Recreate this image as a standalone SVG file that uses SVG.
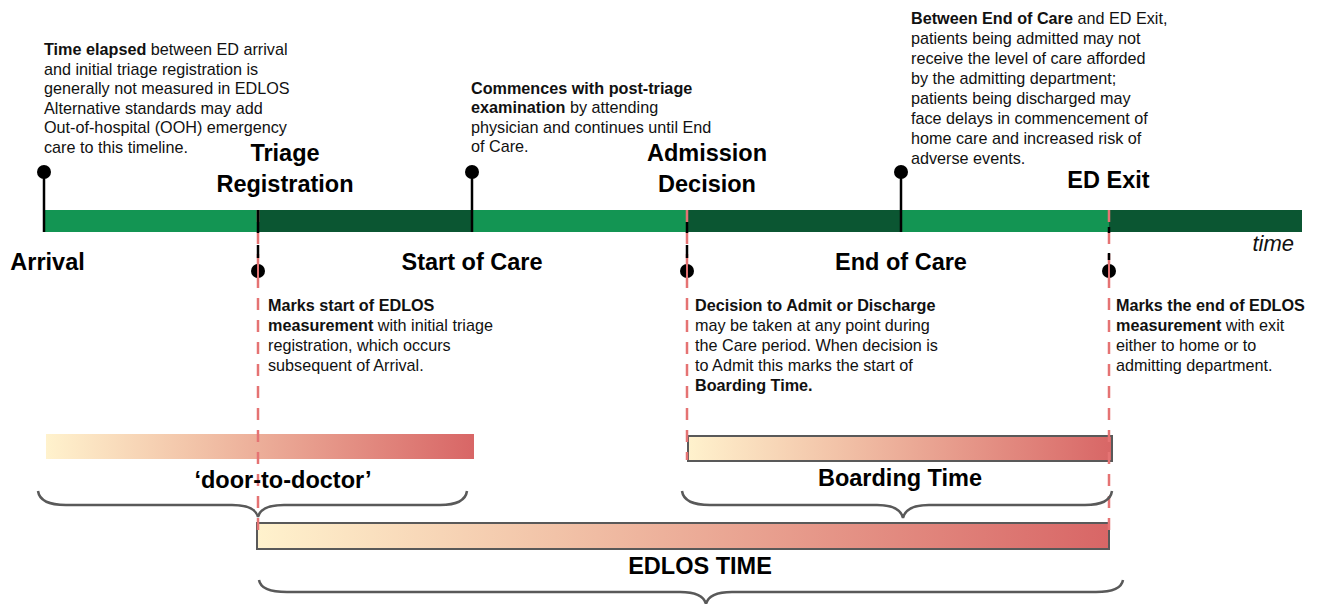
<svg xmlns="http://www.w3.org/2000/svg" width="1318" height="604" viewBox="0 0 1318 604">
<defs>
<linearGradient id="grad" x1="0" y1="0" x2="1" y2="0">
<stop offset="0" stop-color="#FFF2CD"/>
<stop offset="0.35" stop-color="#F2C3A8"/>
<stop offset="1" stop-color="#D86666"/>
</linearGradient>
<style>
.lbl{font-family:"Liberation Sans",Arial,sans-serif;font-weight:bold;font-size:23.5px;fill:#000}
.desc{font-family:"Liberation Sans",Arial,sans-serif;font-size:16.2px;fill:#111}
.b{font-weight:bold}
.light{fill:#139553}
.dark{fill:#0B5632}
.stem{stroke:#000;stroke-width:2.5;fill:none}
.dot{fill:#000}
.red{stroke:#E57373;stroke-width:2.5;fill:none;stroke-dasharray:12 10}
.brace{stroke:#595959;stroke-width:2.5;fill:none}
.bar{fill:url(#grad)}
.barS{fill:url(#grad);stroke:#595959;stroke-width:2}
</style>
</defs>

<g id="timeline">
<rect class="light" x="44" y="210" width="214" height="22"/>
<rect class="dark" x="258" y="210" width="214" height="22"/>
<rect class="light" x="472" y="210" width="215" height="22"/>
<rect class="dark" x="687" y="210" width="214" height="22"/>
<rect class="light" x="901" y="210" width="208" height="22"/>
<rect class="dark" x="1109" y="210" width="193" height="22"/>
<text x="1294" y="251" text-anchor="end" style="font-family:'Liberation Sans',Arial,sans-serif;font-style:italic;font-size:22px;fill:#111">time</text>
</g>

<g id="bars">
<rect id="door-bar" class="bar" x="46" y="434" width="428" height="25"/>
<rect id="boarding-bar" class="barS" x="688" y="436" width="424" height="25"/>
<rect id="edlos-bar" class="barS" x="257" y="523" width="852" height="26"/>
</g>

<g id="connectors">
<line class="red" x1="258" y1="210" x2="258" y2="538"/>
<line class="red" x1="687" y1="210" x2="687" y2="460"/>
<line class="red" x1="1109" y1="210" x2="1109" y2="540"/>
<path class="brace" d="M38,491 Q40,505 66,505 L232,505 Q255,505 258,517 Q261,505 284,505 L440,505 Q465,505 467,491"/>
<path class="brace" d="M682,491 Q684,505 710,505 L877,505 Q900,505 903,518 Q906,505 929,505 L1085,505 Q1110,505 1112,491"/>
<path class="brace" d="M259,580 Q261,592 287,592 L680,592 Q703,592 706,604 Q709,592 732,592 L1096,592 Q1121,592 1123,580"/>
</g>

<g id="arrival">
<line class="stem" x1="44" y1="172" x2="44" y2="232"/>
<circle class="dot" cx="44" cy="172" r="7"/>
<text class="lbl" x="47.5" y="270" text-anchor="middle">Arrival</text>
<text class="desc" x="44" y="55"><tspan class="b">Time elapsed</tspan> between ED arrival<tspan x="44" dy="19.5">and initial triage registration is</tspan><tspan x="44" dy="19.5">generally not measured in EDLOS</tspan><tspan x="44" dy="19.5">Alternative standards may add</tspan><tspan x="44" dy="19.5">Out-of-hospital (OOH) emergency</tspan><tspan x="44" dy="19.5">care to this timeline.</tspan></text>
</g>

<g id="triage">
<line class="stem" x1="258" y1="210" x2="258" y2="233"/>
<line class="stem" x1="258" y1="245" x2="258" y2="258"/>
<circle class="dot" cx="258" cy="271" r="7"/>
<line stroke="#E57373" stroke-width="2" x1="258" y1="264" x2="258" y2="278"/>
<text class="lbl" x="285" y="161" text-anchor="middle">Triage</text>
<text class="lbl" x="285" y="192" text-anchor="middle">Registration</text>
<text class="desc" x="268" y="311"><tspan class="b">Marks start of EDLOS</tspan><tspan x="268" dy="20"><tspan class="b">measurement</tspan> with initial triage</tspan><tspan x="268" dy="20">registration, which occurs</tspan><tspan x="268" dy="20">subsequent of Arrival.</tspan></text>
</g>

<g id="start-of-care">
<line class="stem" x1="472" y1="172" x2="472" y2="232"/>
<circle class="dot" cx="472" cy="172" r="7"/>
<text class="lbl" x="472" y="270" text-anchor="middle">Start of Care</text>
<text class="desc" x="471" y="93.5"><tspan class="b">Commences with post-triage</tspan><tspan x="471" dy="19.5"><tspan class="b">examination</tspan> by attending</tspan><tspan x="471" dy="19.5">physician and continues until End</tspan><tspan x="471" dy="19.5">of Care.</tspan></text>
</g>

<g id="admission">
<line class="stem" x1="687" y1="222" x2="687" y2="233"/>
<line class="stem" x1="687" y1="245" x2="687" y2="258"/>
<circle class="dot" cx="687" cy="271" r="7"/>
<line stroke="#E57373" stroke-width="2" x1="687" y1="264" x2="687" y2="278"/>
<text class="lbl" x="707" y="161" text-anchor="middle">Admission</text>
<text class="lbl" x="707" y="192" text-anchor="middle">Decision</text>
<text class="desc" x="695" y="311"><tspan class="b">Decision to Admit or Discharge</tspan><tspan x="695" dy="20">may be taken at any point during</tspan><tspan x="695" dy="20">the Care period. When decision is</tspan><tspan x="695" dy="20">to Admit this marks the start of</tspan><tspan x="695" dy="20" class="b">Boarding Time.</tspan></text>
</g>

<g id="end-of-care">
<line class="stem" x1="901" y1="172" x2="901" y2="232"/>
<circle class="dot" cx="901" cy="172" r="7"/>
<text class="lbl" x="901" y="270" text-anchor="middle">End of Care</text>
<text class="desc" x="911" y="24"><tspan class="b">Between End of Care</tspan> and ED Exit,<tspan x="911" dy="20">patients being admitted may not</tspan><tspan x="911" dy="20">receive the level of care afforded</tspan><tspan x="911" dy="20">by the admitting department;</tspan><tspan x="911" dy="20">patients being discharged may</tspan><tspan x="911" dy="20">face delays in commencement of</tspan><tspan x="911" dy="20">home care and increased risk of</tspan><tspan x="911" dy="20">adverse events.</tspan></text>
</g>

<g id="ed-exit">
<line class="stem" x1="1109" y1="227" x2="1109" y2="233"/>
<line class="stem" x1="1109" y1="253" x2="1109" y2="260"/>
<circle class="dot" cx="1109" cy="271" r="7"/>
<line stroke="#E57373" stroke-width="2" x1="1109" y1="264" x2="1109" y2="278"/>
<text class="lbl" x="1108.5" y="188" text-anchor="middle">ED Exit</text>
<text class="desc" x="1116" y="311"><tspan class="b">Marks the end of EDLOS</tspan><tspan x="1116" dy="20"><tspan class="b">measurement</tspan> with exit</tspan><tspan x="1116" dy="20">either to home or to</tspan><tspan x="1116" dy="20">admitting department.</tspan></text>
</g>

<g id="labels">
<text class="lbl" x="283" y="488" text-anchor="middle">‘door-to-doctor’</text>
<text class="lbl" x="900" y="486" text-anchor="middle">Boarding Time</text>
<text class="lbl" x="700" y="574" text-anchor="middle">EDLOS TIME</text>
</g>
</svg>
